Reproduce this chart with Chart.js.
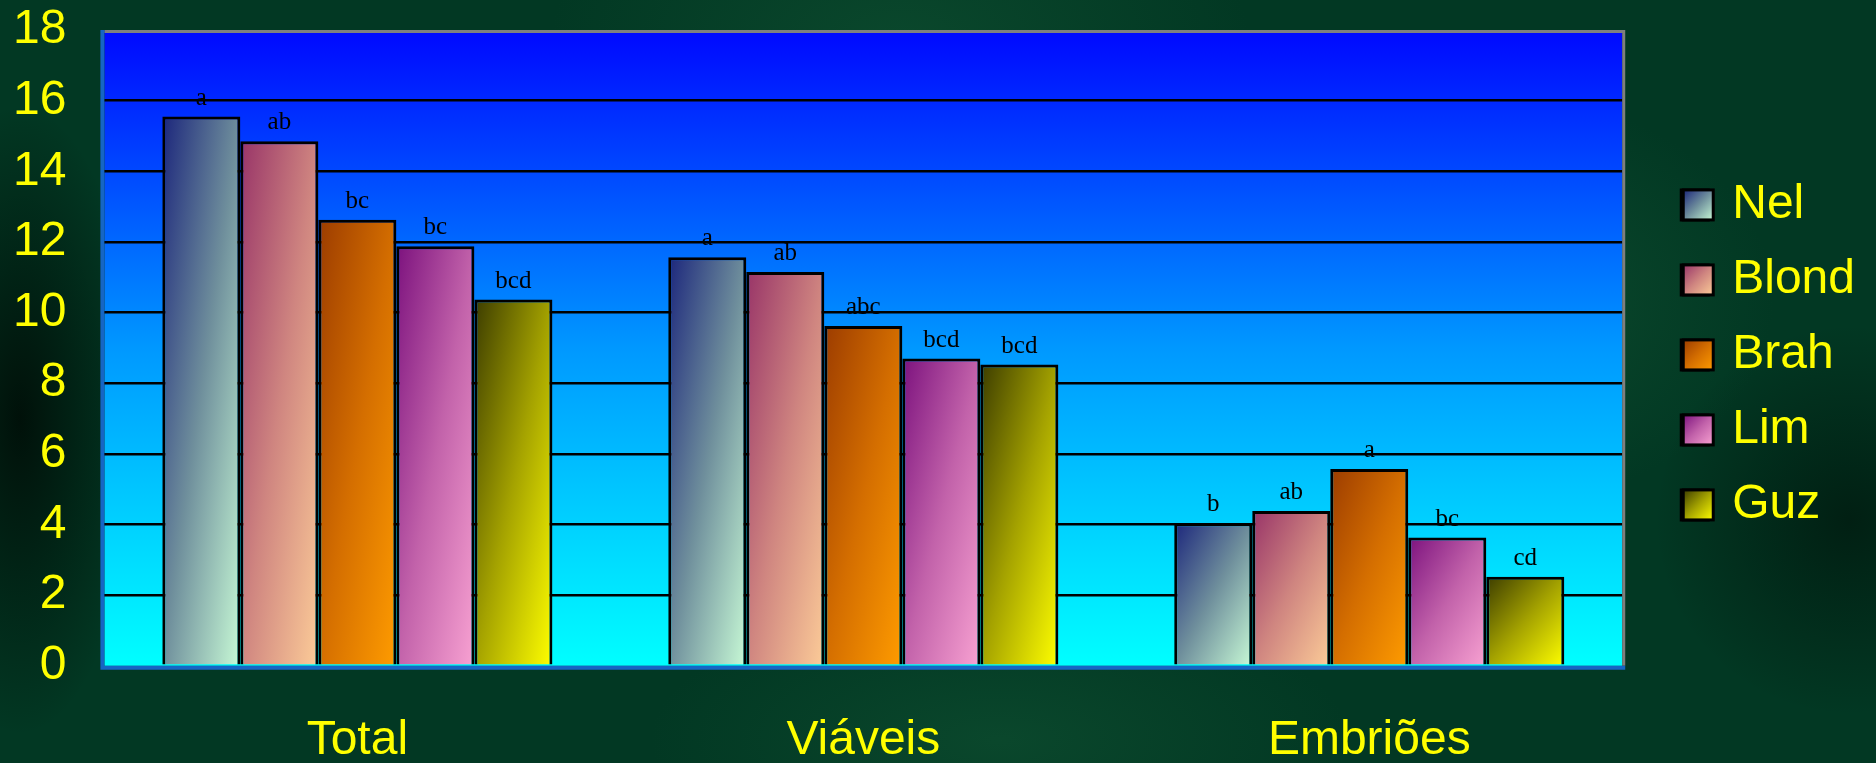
<!DOCTYPE html>
<html>
<head>
<meta charset="utf-8">
<script src="https://cdn.jsdelivr.net/npm/chart.js@4/dist/chart.umd.min.js"></script>
<style>
  html, body { margin: 0; padding: 0; }
  body {
    width: 1876px; height: 763px; overflow: hidden;
    background:
      radial-gradient(ellipse 420px 300px at 1480px 300px, rgba(20,90,55,0.55), rgba(0,0,0,0) 70%),
      radial-gradient(ellipse 500px 260px at 900px 40px, rgba(20,90,55,0.45), rgba(0,0,0,0) 70%),
      radial-gradient(ellipse 500px 200px at 1000px 740px, rgba(20,90,55,0.45), rgba(0,0,0,0) 70%),
      radial-gradient(ellipse 160px 420px at 20px 420px, rgba(0,10,5,0.85), rgba(0,0,0,0) 75%),
      radial-gradient(ellipse 260px 260px at 1850px 520px, rgba(0,15,8,0.6), rgba(0,0,0,0) 75%),
      #023823;
  }
  canvas { display: block; }
</style>
</head>
<body>
<canvas id="c" width="1876" height="763"></canvas>
<script>
// ---- data ----
const categories = ['Total', 'Viáveis', 'Embriões'];
const seriesNames = ['Nel', 'Blond', 'Brah', 'Lim', 'Guz'];
const nelValues   = [15.55, 11.57, 4.04];
const blondValues = [14.85, 11.15, 4.38];
const brahValues  = [12.63, 9.62, 5.57];
const limValues   = [11.88, 8.70, 3.63];
const guzValues   = [10.37, 8.53, 2.52];
const nelLetters   = ['a', 'a', 'b'];
const blondLetters = ['ab', 'ab', 'ab'];
const brahLetters  = ['bc', 'abc', 'a'];
const limLetters   = ['bc', 'bcd', 'bc'];
const guzLetters   = ['bcd', 'bcd', 'cd'];
const yTicks = [0, 2, 4, 6, 8, 10, 12, 14, 16, 18];

// ---- styles ----
const seriesColors = [
  ['#1c267c', '#6f8f9c', '#c8fad6'],
  ['#983468', '#cf8580', '#fccc98'],
  ['#9c3c00', '#d46e00', '#ff9c00'],
  ['#7c127e', '#c262aa', '#f8a2d2'],
  ['#3c3c00', '#a4a200', '#ffff00']
];
const CAT_PCT = 0.771;
const YELLOW = '#ffff00';
const SANS = '"Liberation Sans", Arial, sans-serif';
const Y_PAD = 38;
const X_PAD = 53;

const allValues = [nelValues, blondValues, brahValues, limValues, guzValues];
const allLetters = [nelLetters, blondLetters, brahLetters, limLetters, guzLetters];

function diagGradient(ctx, L, T, R, B, stops) {
  const W = R - L, H = B - T;
  const k = 2 * W * H / (H * H + W * W);
  const g = ctx.createLinearGradient(L, T, L + H * k, T + W * k);
  g.addColorStop(0, stops[0]);
  g.addColorStop(0.5, stops[1]);
  g.addColorStop(1, stops[2]);
  return g;
}

function barFill(c) {
  const stops = seriesColors[c.datasetIndex];
  const chart = c.chart;
  if (c.type !== 'data' || !chart.chartArea || !chart.scales.x) return stops[1];
  const xs = chart.scales.x, ys = chart.scales.y;
  const catW = xs.width / categories.length;
  const barW = catW * CAT_PCT / seriesNames.length;
  const center = xs.getPixelForValue(c.dataIndex);
  const L = center - catW * CAT_PCT / 2 + c.datasetIndex * barW;
  const T = ys.getPixelForValue(c.raw);
  const B = ys.getPixelForValue(0);
  return diagGradient(chart.ctx, L, T, L + barW, B, stops);
}

const datasets = seriesNames.map((name, i) => ({
  label: name,
  data: allValues[i],
  backgroundColor: barFill,
  borderColor: '#000000',
  borderWidth: 3,
  borderSkipped: 'bottom'
}));

const plotDecor = {
  id: 'plotDecor',
  beforeDraw(chart) {
    const a = chart.chartArea, ctx = chart.ctx;
    const g = ctx.createLinearGradient(0, a.top, 0, a.bottom);
    g.addColorStop(0, '#0008ff');
    g.addColorStop(0.5, '#0098ff');
    g.addColorStop(1, '#00ffff');
    ctx.save();
    ctx.fillStyle = g;
    ctx.fillRect(a.left, a.top, a.right - a.left, a.bottom - a.top);
    ctx.restore();
  },
  afterDatasetsDraw(chart) {
    const a = chart.chartArea, ctx = chart.ctx;
    ctx.save();
    ctx.lineWidth = 3;
    ctx.strokeStyle = '#7f7f7f';
    ctx.beginPath();
    ctx.moveTo(a.left, a.top + 1.5);
    ctx.lineTo(a.right + 1.5, a.top + 1.5);
    ctx.lineTo(a.right + 1.5, a.bottom);
    ctx.stroke();
    ctx.strokeStyle = '#1666c4';
    ctx.lineWidth = 4;
    ctx.beginPath();
    ctx.moveTo(a.left - 2, a.top);
    ctx.lineTo(a.left - 2, a.bottom + 2);
    ctx.lineTo(a.right + 3, a.bottom + 2);
    ctx.stroke();
    ctx.fillStyle = '#000000';
    ctx.font = '25px "Liberation Serif", "Times New Roman", serif';
    ctx.textAlign = 'center';
    ctx.textBaseline = 'alphabetic';
    chart.data.datasets.forEach((ds, i) => {
      const meta = chart.getDatasetMeta(i);
      meta.data.forEach((el, j) => {
        ctx.fillText(allLetters[i][j], el.x, el.y - 12);
      });
    });
    ctx.restore();
  },
  afterDraw(chart) {
    const lg = chart.legend;
    if (!lg || !lg.legendHitBoxes) return;
    const ctx = chart.ctx;
    const S = 30;
    ctx.save();
    lg.legendHitBoxes.forEach((hb, i) => {
      const L = hb.left + 2;
      const top = hb.top + (hb.height - S) / 2;
      ctx.fillStyle = diagGradient(ctx, L, top, L + S, top + S, seriesColors[i]);
      ctx.fillRect(L, top, S, S);
      ctx.lineWidth = 3;
      ctx.strokeStyle = '#000000';
      ctx.strokeRect(L, top, S, S);
    });
    ctx.restore();
  }
};

new Chart(document.getElementById('c'), {
  type: 'bar',
  data: { labels: categories, datasets },
  options: {
    responsive: false,
    devicePixelRatio: 1,
    animation: false,
    layout: { padding: { left: 13, top: 30, right: 11, bottom: 0 } },
    datasets: { bar: { categoryPercentage: CAT_PCT, barPercentage: 1.0 } },
    plugins: {
      legend: {
        position: 'right',
        fullSize: false,
        title: { display: true, text: '', padding: 0, font: { size: 14, lineHeight: 1 } },
        labels: {
          color: YELLOW,
          font: { family: SANS, size: 48 },
          boxWidth: 27,
          boxHeight: 30,
          padding: 27
        }
      },
      tooltip: { enabled: false }
    },
    scales: {
      x: {
        grid: { display: false, drawTicks: false },
        border: { display: false },
        ticks: {
          color: YELLOW,
          font: { family: SANS, size: 48, lineHeight: 0.92 },
          padding: X_PAD
        },
        afterFit(scale) { scale.height -= X_PAD; }
      },
      y: {
        min: 0,
        max: 18,
        afterBuildTicks(scale) { scale.ticks = yTicks.map(v => ({ value: v })); },
        grid: {
          drawTicks: false,
          color: (c) => (c.tick && (c.tick.value === 0 || c.tick.value === 18)) ? 'rgba(0,0,0,0)' : '#000000',
          lineWidth: 2.5
        },
        border: { display: false },
        ticks: {
          color: YELLOW,
          font: { family: SANS, size: 48 },
          padding: Y_PAD
        },
        afterFit(scale) {
          scale.width -= Y_PAD;
          scale.paddingTop = 0;
          scale.paddingBottom = 0;
        }
      },
      gap: {
        type: 'linear',
        position: 'right',
        display: true,
        grid: { display: false, drawTicks: false },
        border: { display: false },
        ticks: { display: false },
        afterFit(scale) { scale.width = 32; }
      }
    }
  },
  plugins: [plotDecor]
});
</script>
</body>
</html>
